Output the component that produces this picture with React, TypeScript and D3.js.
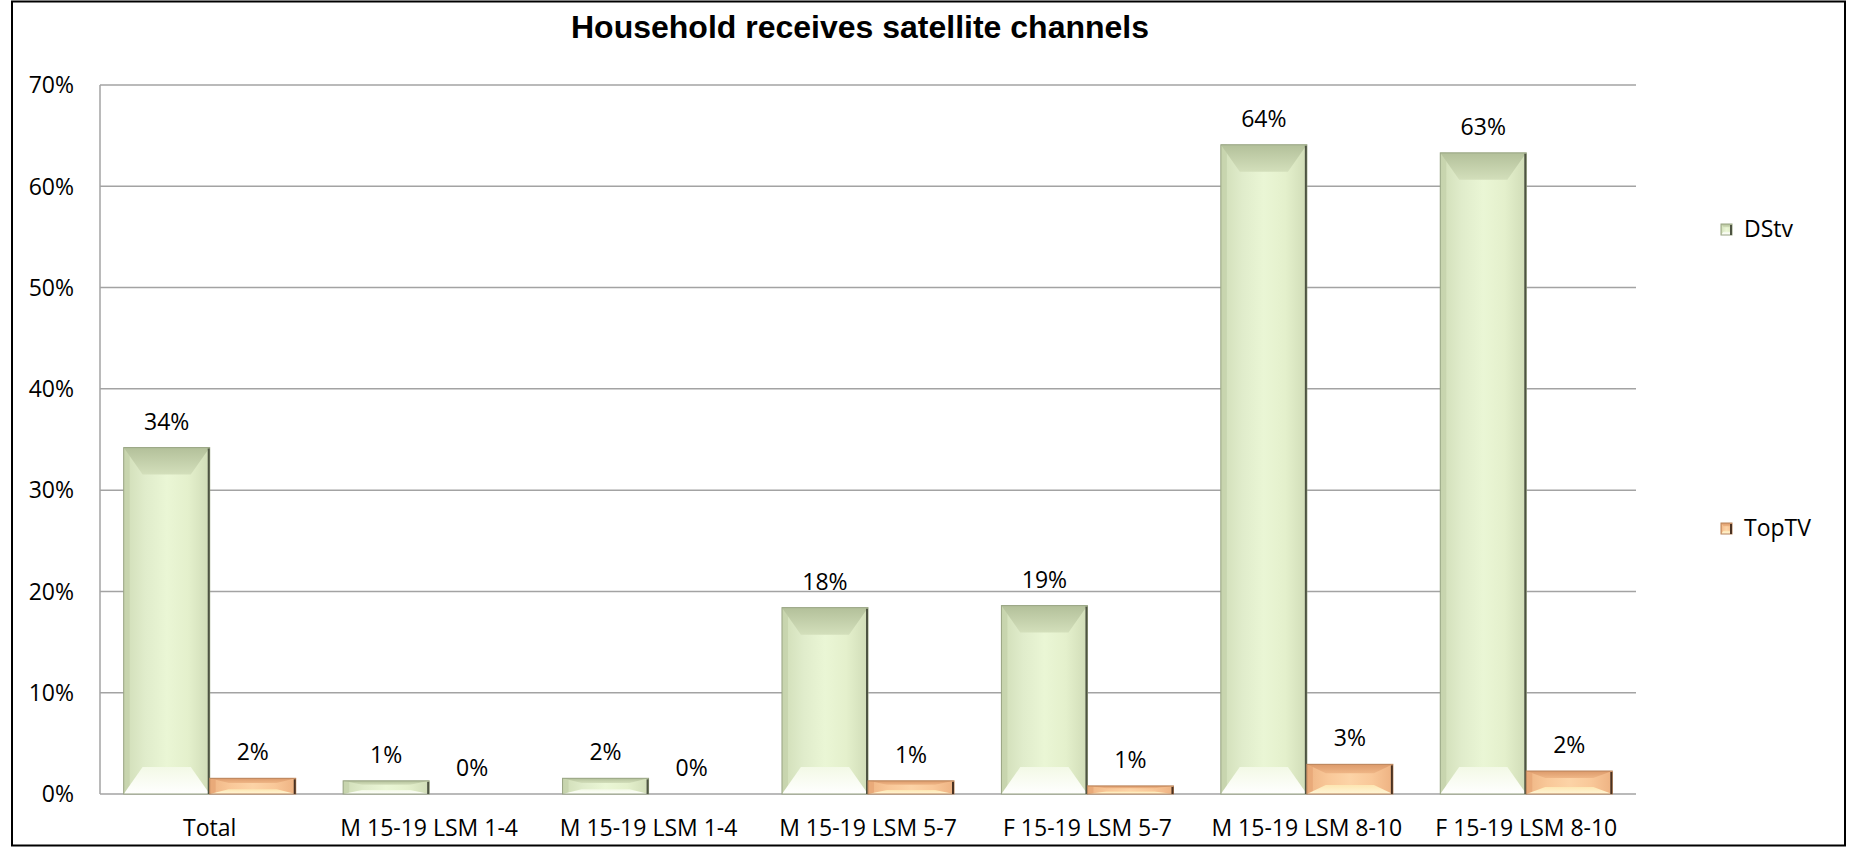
import * as d3 from "d3";
import React from "react";

// chart values
const categories = [
  "Total",
  "M 15-19 LSM 1-4",
  "M 15-19 LSM 1-4 ",
  "M 15-19 LSM 5-7",
  "F 15-19 LSM 5-7",
  "M 15-19 LSM 8-10",
  "F 15-19 LSM 8-10",
];
const seriesNames = ["DStv", "TopTV"];
const dstv = [0.342, 0.013, 0.0155, 0.184, 0.186, 0.641, 0.633];
const toptv = [0.0155, 0, 0, 0.013, 0.008, 0.0293, 0.0227];
const yTicks = [0, 0.1, 0.2, 0.3, 0.4, 0.5, 0.6, 0.7];

const W = 1855;
const H = 850;
const margin = { top: 85, right: 219, bottom: 56, left: 100 };
const FONT = "'Open Sans', 'Noto Sans', sans-serif";

type Palette = {
  id: string;
  stroke: string;
  edge: string;
  side: string;
  body: string[];
  top: string[];
  bottom: string[];
};

const palettes: Palette[] = [
  {
    id: "g",
    stroke: "#97a382",
    edge: "#4d5342",
    side: "#c3d0aa",
    body: ["#d0ddb7", "#e0eccb", "#eaf6d5", "#e4f0cc", "#d0dcb7"],
    top: ["#b3c09a", "#d3dfbb"],
    bottom: ["#f3f9e6", "#ffffff"],
  },
  {
    id: "o",
    stroke: "#b8835a",
    edge: "#4a3222",
    side: "#e6a473",
    body: ["#efb584", "#f9c899", "#fcd3a6", "#f9c899", "#eeb282"],
    top: ["#dc9a6b", "#efb686"],
    bottom: ["#fde6b2", "#fff6d8"],
  },
];

const Defs = () => (
  <defs>
    {palettes.map((p) => (
      <React.Fragment key={p.id}>
        <linearGradient id={`${p.id}-body`} x1="0" x2="1" y1="0" y2="0">
          {p.body.map((c, i) => (
            <stop key={i} offset={i / (p.body.length - 1)} stopColor={c} />
          ))}
        </linearGradient>
        <linearGradient id={`${p.id}-top`} x1="0" x2="0" y1="0" y2="1">
          <stop offset="0" stopColor={p.top[0]} />
          <stop offset="1" stopColor={p.top[1]} />
        </linearGradient>
        <linearGradient id={`${p.id}-bot`} x1="0" x2="0" y1="0" y2="1">
          <stop offset="0" stopColor={p.bottom[0]} />
          <stop offset="1" stopColor={p.bottom[1]} />
        </linearGradient>
      </React.Fragment>
    ))}
  </defs>
);

// bar with an Excel-like bevel
const BevelBar = ({ x, y, w, h, pal }: { x: number; y: number; w: number; h: number; pal: Palette }) => {
  if (h <= 0) return null;
  const d = Math.min(27, h * 0.3);
  const s = Math.min(20, w * 0.22);
  const side = Math.min(6, w * 0.08);
  const pts = (arr: number[][]) => arr.map((p) => p.join(",")).join(" ");
  return (
    <g>
      <rect x={x} y={y} width={w} height={h} fill={`url(#${pal.id}-body)`} />
      <rect x={x} y={y} width={side} height={h} fill={pal.side} opacity={0.7} />
      <polygon
        points={pts([[x, y], [x + w, y], [x + w - s, y + d], [x + s, y + d]])}
        fill={`url(#${pal.id}-top)`}
      />
      <polygon
        points={pts([[x, y + h], [x + w, y + h], [x + w - s, y + h - d], [x + s, y + h - d]])}
        fill={`url(#${pal.id}-bot)`}
      />
      <rect x={x} y={y} width={w} height={h} fill="none" stroke={pal.stroke} strokeWidth={1} />
      <line x1={x + w - 1} x2={x + w - 1} y1={y + 1} y2={y + h} stroke={pal.edge} strokeWidth={2} />
    </g>
  );
};

const App = () => {
  const innerW = W - margin.left - margin.right;
  const innerH = H - margin.top - margin.bottom;
  const x0 = margin.left;
  const y0 = margin.top;

  const x = d3
    .scaleBand<string>()
    .domain(categories)
    .range([x0, x0 + innerW])
    .paddingInner(0.216)
    .paddingOuter(0.108);
  const xs = d3.scaleBand<string>().domain(seriesNames).range([0, x.bandwidth()]);
  const y = d3.scaleLinear().domain([0, 0.7]).range([y0 + innerH, y0]);
  const fmt = d3.format(".0%");

  const series = [dstv, toptv];

  return (
    <svg
      width={W}
      height={H}
      style={{ position: "absolute", left: 0, top: 0, background: "#fff" }}
      fontFamily={FONT}
    >
      <Defs />
      <rect x={12} y={1.5} width={1833} height={844} fill="#fff" stroke="#000" strokeWidth={2} />

      <text
        x={860}
        y={38}
        textAnchor="middle"
        fontFamily="'Liberation Sans', Arial, sans-serif"
        fontWeight="bold"
        fontSize={32}
      >
        Household receives satellite channels
      </text>

      {/* grid + y axis labels */}
      {yTicks.map((t) => (
        <g key={t}>
          <line
            x1={x0}
            x2={x0 + innerW}
            y1={y(t)}
            y2={y(t)}
            stroke="#a3a3a3"
            strokeWidth={1.5}
          />
          <text x={74} y={y(t)} dy="0.36em" textAnchor="end" fontSize={23}>
            {fmt(t)}
          </text>
        </g>
      ))}
      <line x1={x0} x2={x0} y1={y0} y2={y0 + innerH} stroke="#a3a3a3" strokeWidth={1.5} />

      {/* bars */}
      {categories.map((c, i) => (
        <g key={c}>
          {series.map((vals, si) => {
            const bx = (x(c) as number) + (xs(seriesNames[si]) as number);
            const bw = xs.bandwidth();
            const top = y(vals[i]);
            return (
              <g key={si}>
                <BevelBar x={bx} y={top} w={bw} h={y(0) - top} pal={palettes[si]} />
                <text x={bx + bw / 2} y={top - 18} textAnchor="middle" fontSize={23}>
                  {fmt(vals[i])}
                </text>
              </g>
            );
          })}
          <text
            x={(x(c) as number) + x.bandwidth() / 2}
            y={836}
            textAnchor="middle"
            fontSize={23}
          >
            {c.trim()}
          </text>
        </g>
      ))}

      {/* legend */}
      {seriesNames.map((n, i) => {
        const ly = [229, 528][i];
        return (
          <g key={n}>
            <BevelBar x={1721} y={ly - 5} w={11} h={11} pal={palettes[i]} />
            <text x={1744} y={ly} dy="0.36em" fontSize={23}>
              {n}
            </text>
          </g>
        );
      })}
    </svg>
  );
};

export default App;
